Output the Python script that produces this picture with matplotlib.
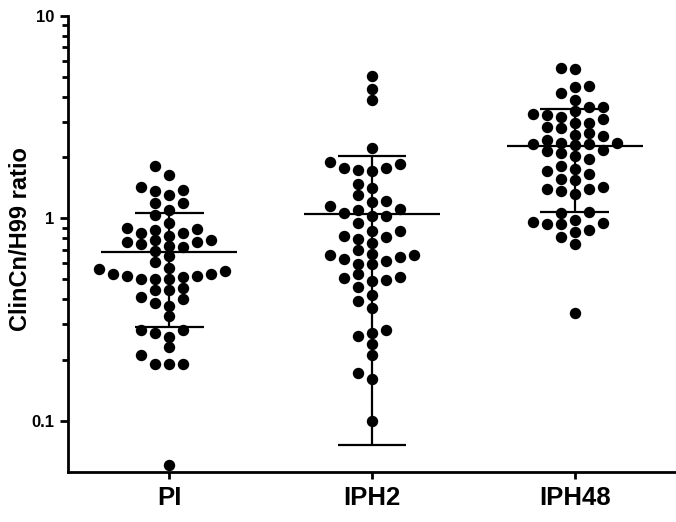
import numpy as np
import matplotlib.pyplot as plt

plt.rcParams['font.family'] = ['Liberation Sans', 'DejaVu Sans']
plt.rcParams['font.weight'] = 'bold'

groups = ["PI", "IPH2", "IPH48"]

pi_vals = [1.81, 1.63, 1.42, 1.37, 1.38, 1.31, 1.19, 1.19, 1.10, 1.04,
           0.95, 0.89, 0.85, 0.85, 0.88, 0.90, 0.82, 0.78, 0.75, 0.76,
           0.73, 0.76, 0.78, 0.72, 0.69, 0.65, 0.61, 0.57, 0.56, 0.55,
           0.53, 0.52, 0.50, 0.50, 0.50, 0.51, 0.52, 0.53, 0.44, 0.45,
           0.44, 0.41, 0.38, 0.40, 0.37, 0.33, 0.28, 0.27, 0.28, 0.26,
           0.23, 0.21, 0.19, 0.19, 0.19, 0.06]
iph2_vals = [5.03, 4.37, 3.86, 2.23, 1.905, 1.78, 1.742, 1.716, 1.78, 1.863,
             1.419, 1.477, 1.309, 1.209, 1.149, 1.223, 1.093, 1.029, 1.029, 1.067,
             1.112, 0.953, 0.870, 0.817, 0.794, 0.759, 0.809, 0.866, 0.695, 0.657,
             0.642, 0.618, 0.597, 0.597, 0.627, 0.657, 0.669, 0.528, 0.508, 0.490,
             0.458, 0.498, 0.510, 0.417, 0.390, 0.361, 0.270, 0.261, 0.280, 0.240,
             0.211, 0.171, 0.160, 0.10]
iph48_vals = [5.52, 5.49, 4.51, 4.16, 4.47, 3.83, 3.56, 3.55, 3.23, 3.38,
              3.29, 3.08, 2.96, 2.81, 2.84, 2.96, 3.18, 2.59, 2.43, 2.35,
              2.34, 2.31, 2.34, 2.37, 2.56, 2.64, 2.15, 2.10, 1.96, 2.04,
              2.17, 1.75, 1.65, 1.57, 1.72, 1.81, 1.55, 1.43, 1.39, 1.32,
              1.36, 1.39, 1.08, 1.06, 0.95, 0.94, 0.88, 0.94, 0.96, 0.98,
              0.86, 0.81, 0.75, 0.34]
data = [pi_vals, iph2_vals, iph48_vals]

fig = plt.figure(figsize=(6.76, 5.22), dpi=100)
ax = fig.add_axes([0.1006, 0.0958, 0.8994, 0.8735])
ax.set_yscale('log')
ax.set_ylim(0.0557, 10)
ax.set_xlim(-0.5, 2.5)

# prism-like swarm: fixed column spacing, place points column by column
px_per_x = ax.bbox.width / 3.0
step = 14 / px_per_x
diam = 10
order = [0]
for k in range(1, 12):
    order += [-k, k]

for i, vals in enumerate(data):
    v = np.sort(np.array(vals))
    ypix = ax.transData.transform(np.column_stack([np.full(len(v), i), v]))[:, 1]
    cols = {}
    offs = []
    for yp in ypix:
        for k in order:
            if all(abs(yp - q) >= diam for q in cols.get(k, [])):
                break
        cols.setdefault(k, []).append(yp)
        offs.append(k)
    ax.plot(i + np.array(offs) * step, v, 'o', color='black', ms=7.2,
            ls='none', zorder=3, clip_on=False)

    m = np.mean(vals)
    sd = np.std(vals, ddof=1)
    ax.hlines(m, i - 0.335, i + 0.335, color='black', lw=1.6, zorder=4)
    ax.hlines([m - sd, m + sd], i - 0.17, i + 0.17, color='black', lw=1.6, zorder=4)
    ax.vlines(i, m - sd, m + sd, color='black', lw=1.6, zorder=4)

ax.set_xticks([0, 1, 2])
ax.set_xticklabels(groups, fontsize=18.5, fontweight='bold')
ax.set_yticks([0.1, 1, 10])
ax.set_yticklabels(['0.1', '1', '10'], fontsize=12, fontweight='bold')
minors = [s * 0.1 for s in range(2, 10)] + [float(s) for s in range(2, 10)]
ax.set_yticks(minors, minor=True)
ax.set_yticklabels([], minor=True)

ax.set_ylabel("ClinCn/H99 ratio", fontsize=17, fontweight='bold')
ax.yaxis.set_label_coords(-0.059, 0.511)

for side in ['top', 'right']:
    ax.spines[side].set_visible(False)
for side in ['left', 'bottom']:
    ax.spines[side].set_linewidth(2)
ax.tick_params(axis='y', which='major', length=6, width=2, pad=4)
ax.tick_params(axis='y', which='minor', length=4.5, width=2)
ax.tick_params(axis='x', length=5, width=2, pad=5)

plt.savefig('out.png', dpi=100)
